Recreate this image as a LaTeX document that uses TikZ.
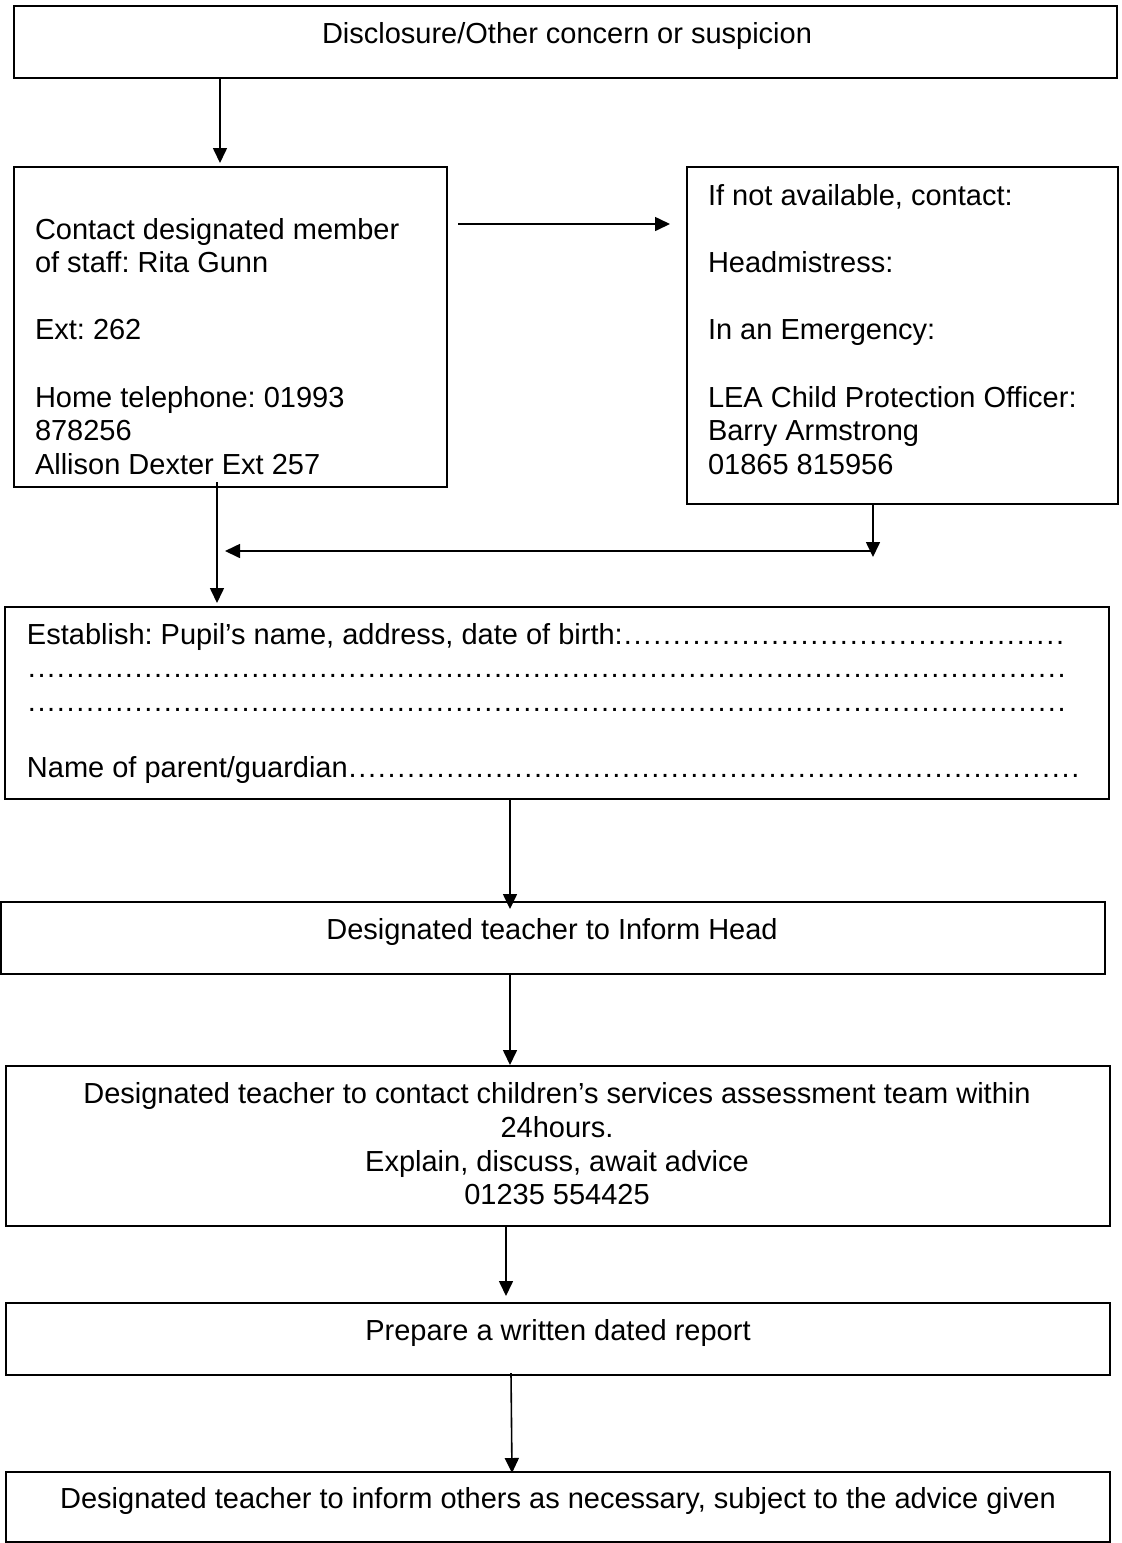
\documentclass[tikz,border=0pt]{standalone}
\usepackage{fontspec}
\setmainfont{Liberation Sans}
\usetikzlibrary{arrows.meta}
\frenchspacing
\newcommand\dotlead{\xleaders\hbox to 0.3333em{\hss.\hss}\hfill}
\begin{document}
\begin{tikzpicture}[x=1pt,y=-1pt,
  box/.style={draw=black, line width=2pt, anchor=north west, inner sep=0pt, outer sep=0pt},
  txt/.style={inner sep=0pt, outer sep=0pt, font=\fontsize{29}{33.6}\selectfont},
  arr/.style={line width=1.6pt, -{Triangle[length=15pt,width=14pt]}}]
\useasboundingbox (0,0) rectangle (1122,1543);
% boxes
\node[box, minimum width=1103pt, minimum height=72pt] (b1) at (14,6) {};
\node[box, minimum width=433pt, minimum height=320pt] (b2) at (14,167) {};
\node[box, minimum width=431pt, minimum height=337pt] (b3) at (687,167) {};
\node[box, minimum width=1104pt, minimum height=192pt] (b4) at (5,607) {};
\node[box, minimum width=1104pt, minimum height=72pt] (b5) at (1,902) {};
\node[box, minimum width=1104pt, minimum height=160pt] (b6) at (6,1066) {};
\node[box, minimum width=1104pt, minimum height=72pt] (b7) at (6,1303) {};
\node[box, minimum width=1104pt, minimum height=70pt] (b8) at (6,1472) {};
% texts
\node[txt, anchor=base] (t1) at (567,43) {Disclosure/Other concern or suspicion};
\foreach \y/\t [count=\i] in {239/Contact designated member, 272.6/{of staff: Rita Gunn}, 339.8/{Ext: 262}, 407/{Home telephone: 01993}, 440.6/878256, 474.2/Allison Dexter Ext 257}
  \node[txt, anchor=base west] (l\i) at (35,\y) {\t};
\foreach \y/\t [count=\i] in {205/{If not available, contact:}, 272.6/{Headmistress:}, 339.8/{In an Emergency:}, 407/{LEA Child Protection Officer:}, 440.6/Barry Armstrong, 474.2/01865 815956}
  \node[txt, anchor=base west] (r\i) at (708,\y) {\t};
\node[txt, anchor=base west] (e1) at (27,644) {\makebox[1038pt][l]{Establish: Pupil’s name, address, date of birth:\dotlead}};
\node[txt, anchor=base west] (e2) at (27,677.5) {\makebox[1039pt][l]{\dotlead}};
\node[txt, anchor=base west] (e3) at (27,711) {\makebox[1039pt][l]{\dotlead}};
\node[txt, anchor=base west] (e4) at (27,777.5) {\makebox[1053pt][l]{Name of parent/guardian\dotlead}};
\node[txt, anchor=base] (t5) at (552,939) {Designated teacher to Inform Head};
\node[txt, anchor=base] (t6a) at (557,1103) {Designated teacher to contact children’s services assessment team within};
\node[txt, anchor=base] (t6b) at (557,1137) {24hours.};
\node[txt, anchor=base] (t6c) at (557,1171) {Explain, discuss, await advice};
\node[txt, anchor=base] (t6d) at (557,1204) {01235 554425};
\node[txt, anchor=base] (t7) at (558,1340) {Prepare a written dated report};
\node[txt, anchor=base] (t8) at (558,1508) {Designated teacher to inform others as necessary, subject to the advice given};
% connectors
\coordinate (p1) at (220,163);
\draw[arr] (b1.south -| p1) -- (p1);
\coordinate (p2s) at (458,224);
\coordinate (p2) at (670,224);
\draw[arr] (p2s) -- (p2);
\coordinate (p3) at (873,557);
\draw[arr] (b3.south -| p3) -- (p3);
\coordinate (p4s) at (873,551);
\coordinate (p4) at (225,551);
\draw[arr] (p4s) -- (p4);
\coordinate (p5s) at (217,482);
\coordinate (p5) at (217,603);
\draw[arr] (p5s) -- (p5);
\coordinate (p6) at (510,909);
\draw[arr] (b4.south -| p6) -- (p6);
\coordinate (p7) at (510,1065);
\draw[arr] (b5.south -| p7) -- (p7);
\coordinate (p8) at (506,1296);
\draw[arr] (b6.south -| p8) -- (p8);
\coordinate (p9s) at (511,1373);
\coordinate (p9) at (512,1473);
\draw[arr] (p9s) -- (p9);
\end{tikzpicture}
\end{document}
